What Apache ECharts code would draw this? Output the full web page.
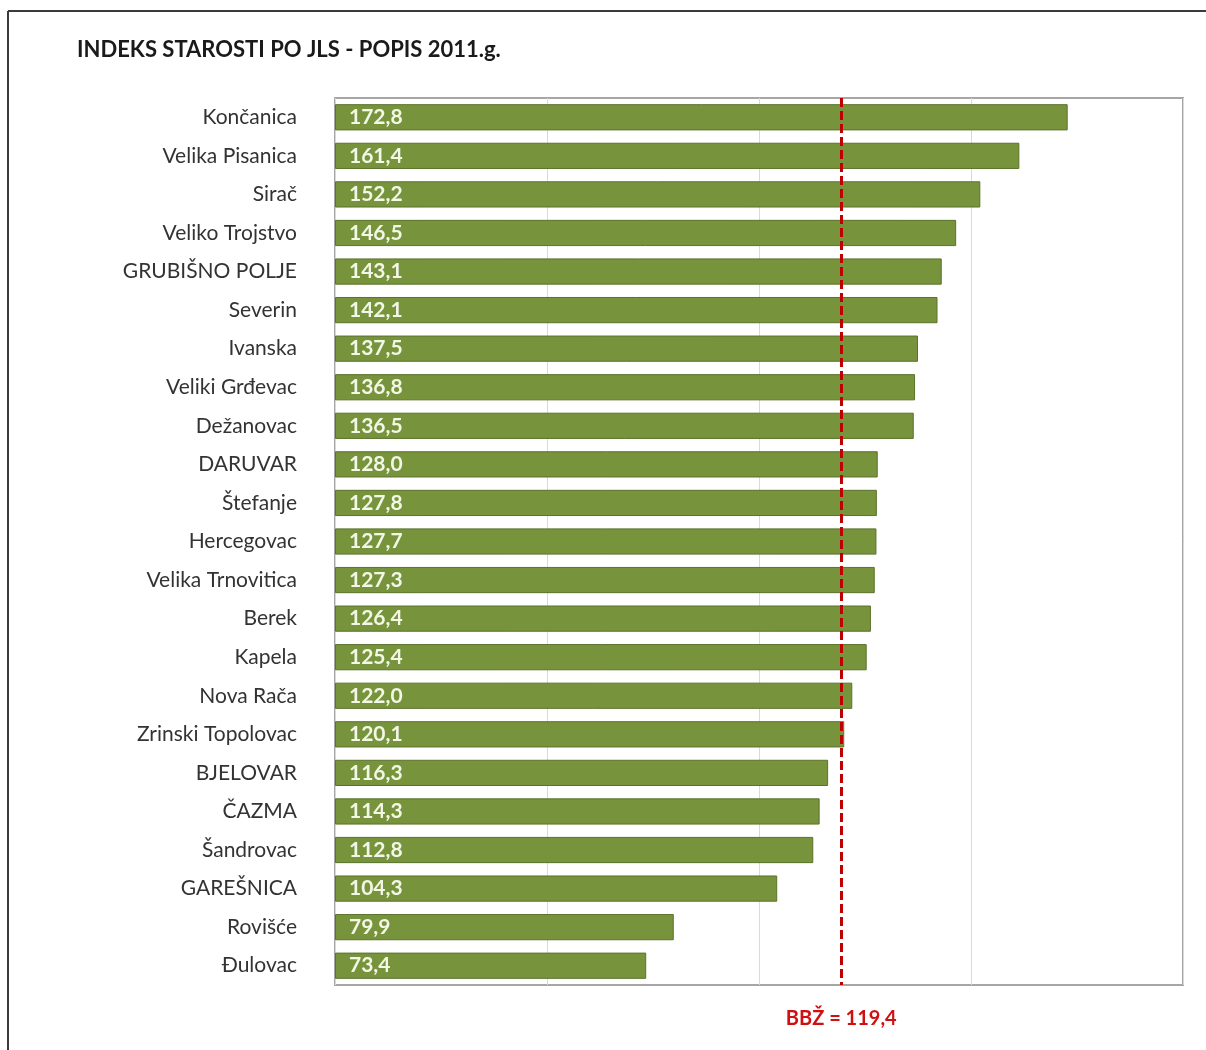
<!DOCTYPE html>
<html><head><meta charset="utf-8">
<script src="https://cdn.jsdelivr.net/npm/echarts@6/dist/echarts.min.js"></script>
<style>html,body{margin:0;padding:0;background:#fff}#c{width:1206px;height:1050px}</style>
</head><body><div id="c"></div>
<script>
const titleText = 'INDEKS STAROSTI PO JLS - POPIS 2011.g.';
const categories = ['Končanica','Velika Pisanica','Sirač','Veliko Trojstvo','GRUBIŠNO POLJE','Severin','Ivanska','Veliki Grđevac','Dežanovac','DARUVAR','Štefanje','Hercegovac','Velika Trnovitica','Berek','Kapela','Nova Rača','Zrinski Topolovac','BJELOVAR','ČAZMA','Šandrovac','GAREŠNICA','Rovišće','Đulovac'];
const values = [172.8,161.4,152.2,146.5,143.1,142.1,137.5,136.8,136.5,128.0,127.8,127.7,127.3,126.4,125.4,122.0,120.1,116.3,114.3,112.8,104.3,79.9,73.4];
const refValue = 119.4;
const refLabel = 'BBŽ = 119,4';
const fmt = v => v.toFixed(1).replace('.', ',');

const chart = echarts.init(document.getElementById('c'));
chart.setOption({
  animation: false,
  backgroundColor: '#fff',
  title: {text: titleText, left: 72, top: 34,
    textStyle: {fontFamily: 'Lato', fontWeight: 'bold', fontSize: 22, color: '#1a1a1a'}},
  graphic: [
    {type: 'line', shape: {x1: 8, y1: 11, x2: 1206, y2: 11}, style: {stroke: '#3a3a3a', lineWidth: 2}},
    {type: 'line', shape: {x1: 8, y1: 11, x2: 8, y2: 1050}, style: {stroke: '#3a3a3a', lineWidth: 2}}
  ],
  grid: {left: 335, right: 23, top: 98, bottom: 65, show: true, borderColor: '#a6a6a6', borderWidth: 2},
  xAxis: {type: 'value', min: 0, max: 200, interval: 50,
    axisLabel: {show: false}, axisLine: {show: false}, axisTick: {show: false},
    splitLine: {lineStyle: {color: '#d9d9d9', width: 1}}},
  yAxis: {type: 'category', data: categories, inverse: true,
    axisLine: {show: false}, axisTick: {show: false},
    axisLabel: {margin: 38, fontFamily: 'Lato', fontSize: 21, color: '#333'}},
  series: [{
    type: 'bar', data: values, barCategoryGap: '32%',
    itemStyle: {color: '#77933C', borderColor: '#5b722c', borderWidth: 1},
    label: {show: true, position: 'insideLeft', distance: 14, formatter: p => fmt(p.value),
      fontFamily: 'Lato', fontWeight: 'bold', fontSize: 21, color: '#f2f7e6'},
    markLine: {
      silent: true, symbol: 'none',
      lineStyle: {color: '#C00000', type: [9, 4], width: 3},
      label: {show: true, position: 'end', distance: 24, formatter: refLabel,
        fontFamily: 'Lato', fontWeight: 'bold', fontSize: 20, color: '#D01010'},
      data: [{xAxis: refValue}]
    }
  }]
});
</script></body></html>
